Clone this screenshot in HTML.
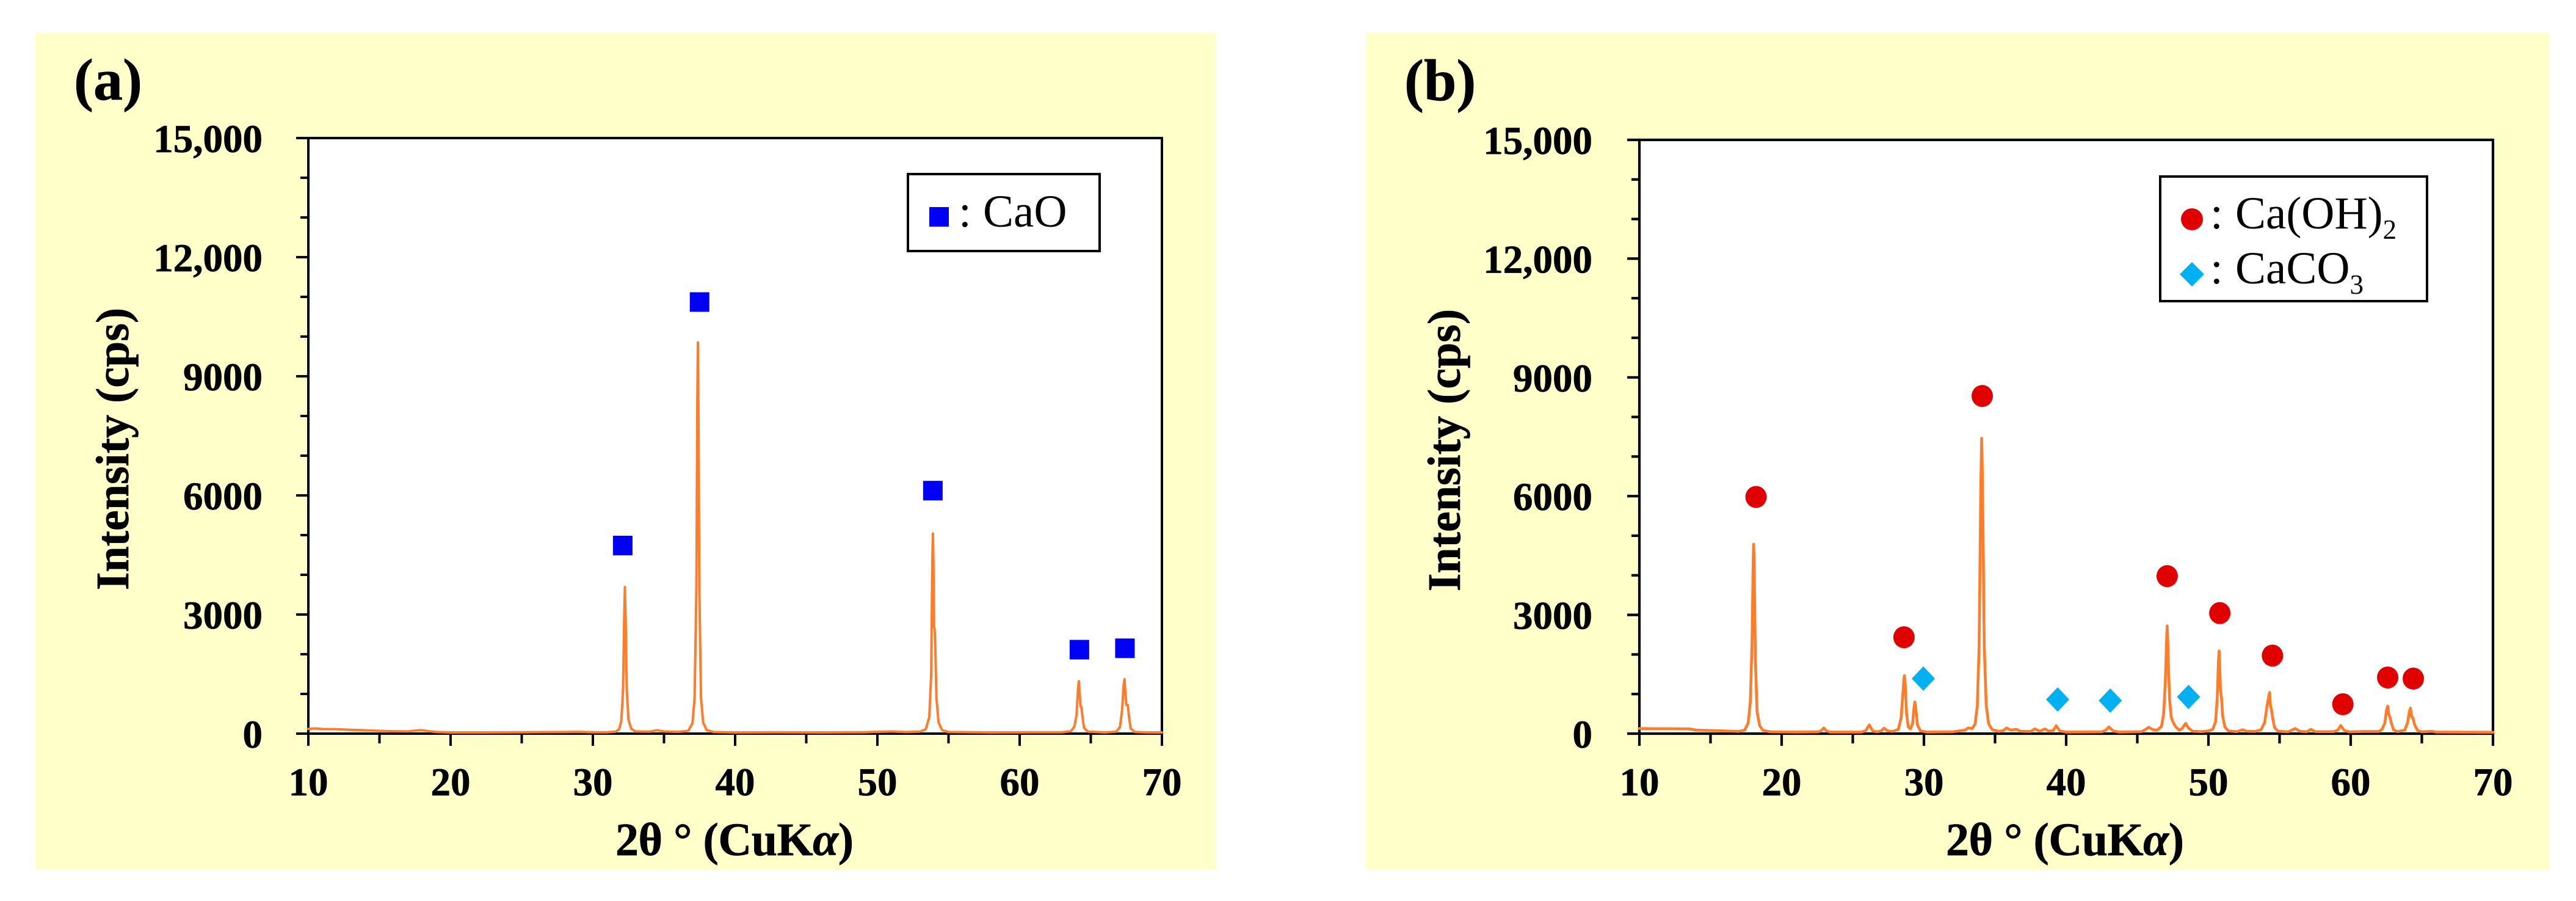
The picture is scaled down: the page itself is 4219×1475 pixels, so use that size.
<!DOCTYPE html>
<html lang="en">
<head>
<meta charset="utf-8">
<title>XRD patterns of CaO and Ca(OH)2</title>
<style>
html,body{margin:0;padding:0;background:#fff;width:4219px;height:1475px;overflow:hidden}
svg{display:block;font-family:"Liberation Serif",serif}
.tick{font-weight:bold;font-size:65px;fill:#000;stroke:#000;stroke-width:.7px}
.axt{font-weight:bold;font-size:76px;fill:#000;stroke:#000;stroke-width:.7px}
.pan{font-weight:bold;font-size:96px;fill:#000;stroke:#000;stroke-width:.7px}
.leg{font-size:75px;fill:#000}
.sub{font-size:45px}
</style>
</head>
<body>
<svg id="chart" xmlns="http://www.w3.org/2000/svg" width="4219" height="1475" viewBox="0 0 4219 1475">
  <rect x="58" y="54" width="1934" height="1369" fill="#ffffc9"/>
  <rect x="2238" y="54" width="1937" height="1369" fill="#ffffc9"/>
  <g id="panel-a"></g>
  <g id="panel-b"></g>

  <text class="pan" x="121" y="163">(a)</text>
  <text class="pan" x="2300" y="164">(b)</text>

  <text class="axt" text-anchor="middle" transform="translate(210,735) rotate(-90)">Intensity (cps)</text>
  <text class="axt" text-anchor="middle" transform="translate(2391,737) rotate(-90)">Intensity (cps)</text>
  <text class="axt" text-anchor="middle" x="1203" y="1400" textLength="390">2θ ° (CuK<tspan font-style="italic">α</tspan>)</text>
  <text class="axt" text-anchor="middle" x="3382" y="1400" textLength="390">2θ ° (CuK<tspan font-style="italic">α</tspan>)</text>

  <g>
    <rect x="1487" y="285" width="314" height="126" fill="#fff" stroke="#000" stroke-width="4"/>
    <rect x="1522" y="339" width="32" height="32" fill="#0000f5"/>
    <text class="leg" x="1570" y="371">:</text>
    <text class="leg" x="1610" y="371">CaO</text>
  </g>
  <g>
    <rect x="3538" y="289" width="437" height="204" fill="#fff" stroke="#000" stroke-width="4"/>
    <ellipse cx="3590" cy="359" rx="18" ry="18" fill="#e00000"/>
    <text class="leg" x="3620" y="374">:</text>
    <text class="leg" x="3661" y="374">Ca(OH)<tspan class="sub" dy="17">2</tspan></text>
    <polygon points="3570,449 3590,429 3610,449 3590,469" fill="#00b0f0"/>
    <text class="leg" x="3620" y="464">:</text>
    <text class="leg" x="3661" y="464">CaCO<tspan class="sub" dy="17">3</tspan></text>
  </g>
</svg>
<script>
// ---- shared axis data ----
var yTickValues = [0, 3000, 6000, 9000, 12000, 15000];
var yTickLabels = ["0", "3000", "6000", "9000", "12,000", "15,000"];
var yMinorValues = [1000, 2000, 4000, 5000, 7000, 8000, 10000, 11000, 13000, 14000];
var xTickValues = [10, 20, 30, 40, 50, 60, 70];
var xTickLabels = ["10", "20", "30", "40", "50", "60", "70"];
var xMinorValues = [15, 25, 35, 45, 55, 65];

// ---- panel (a): CaO pattern ----
var twoThetaA = [10,10.5,11,12,13,14,15,16,17,17.5,17.9,18.3,19,20,22,25,28,29,30,31,31.6,31.85,32,32.12,32.2,32.25,32.3,32.38,32.5,32.7,33,34,34.5,35,36,36.7,37,37.15,37.28,37.34,37.38,37.42,37.48,37.6,37.75,38,38.5,40,43,46,49,51,52,53,53.4,53.65,53.78,53.86,53.9,53.94,53.98,54.02,54.07,54.15,54.3,54.55,55,58,61,63,63.6,63.85,64,64.1,64.16,64.22,64.28,64.33,64.4,64.52,64.8,66,66.8,67.05,67.2,67.3,67.37,67.43,67.5,67.6,67.68,67.8,68.1,69,70];
var intensityA = [120,130,115,110,95,85,70,60,55,75,90,70,40,30,30,35,40,45,35,35,50,110,320,1100,2900,3692,2900,1100,350,120,55,50,85,55,45,70,260,900,3700,8200,9850,8200,3700,900,280,90,40,30,35,30,35,55,40,50,110,420,1500,4300,5040,4300,2700,2630,2200,900,280,90,40,30,35,35,60,180,480,1100,1320,1000,680,680,480,150,50,30,50,170,600,1200,1370,1050,720,720,450,130,40,30,30];
var caoMarkerX = [32.1, 37.5, 53.9, 64.2, 67.4];
var caoMarkerY = [4738, 10870, 6120, 2115, 2150];

// ---- panel (b): Ca(OH)2 + CaCO3 pattern ----
var twoThetaB = [10,11,12,13.5,14,16,17,17.4,17.65,17.8,17.92,18,18.03,18.07,18.15,18.27,18.45,18.7,19.2,21,22.6,22.8,22.96,23.15,23.4,25.6,25.9,26.16,26.4,26.7,27,27.2,27.45,27.8,28.2,28.4,28.52,28.6,28.63,28.68,28.78,28.9,29.05,29.2,29.3,29.36,29.42,29.55,29.75,30.2,32,32.9,33.1,33.4,33.6,33.75,33.88,34,34.06,34.12,34.24,34.38,34.55,34.8,35.3,35.6,35.8,36.1,36.5,36.8,37.5,37.8,38.15,38.5,38.8,39.1,39.3,39.55,40,42.5,42.8,43,43.3,43.7,45.3,45.6,45.8,46.1,46.4,46.7,46.85,46.97,47.05,47.1,47.15,47.2,47.27,47.38,47.5,47.7,47.95,48.15,48.4,48.6,48.9,49.5,50,50.3,50.5,50.62,50.7,50.75,50.8,50.85,50.92,51,51.15,51.4,52,52.4,52.7,53.3,53.7,53.95,54.12,54.24,54.3,54.36,54.42,54.5,54.65,54.9,55.6,56.1,56.4,56.9,57.2,57.5,58.8,59.1,59.3,59.55,59.9,61,62,62.2,62.4,62.52,62.6,62.68,62.75,62.85,63,63.3,63.8,64,64.12,64.2,64.28,64.37,64.5,64.7,65,65.7,66,70];
var intensityB = [130,125,125,120,90,70,55,90,270,800,2300,4400,4785,4300,1900,560,200,80,45,40,45,80,143,70,40,40,70,220,70,45,70,138,70,55,110,400,1000,1400,1466,1300,500,170,120,250,650,800,650,220,70,40,45,90,143,130,250,700,2200,6300,7462,6300,2200,700,250,100,55,80,143,90,110,60,55,120,60,120,60,80,200,70,40,45,90,170,70,40,50,110,160,100,90,180,500,1300,2300,2720,2250,1550,850,420,300,170,90,130,260,140,60,50,70,110,300,900,1800,2090,1600,1090,900,450,170,70,50,100,60,55,100,280,700,950,1040,700,630,420,150,60,45,130,60,45,110,50,50,90,205,80,45,55,55,110,270,600,697,480,430,280,100,50,90,280,560,645,430,400,220,80,45,60,40,35];
var caoh2MarkerX = [18.2, 28.6, 34.1, 47.1, 50.8, 54.5, 59.45, 62.6, 64.4];
var caoh2MarkerY = [5980, 2435, 8530, 3980, 3045, 1972, 742, 1418, 1390];
var caco3MarkerX = [29.96, 39.4, 43.1, 48.6];
var caco3MarkerY = [1390, 863, 835, 928];

var SVGNS = 'http://www.w3.org/2000/svg';
function mk(tag, attrs, parent) {
  var el = document.createElementNS(SVGNS, tag);
  for (var k in attrs) el.setAttribute(k, attrs[k]);
  parent.appendChild(el);
  return el;
}

function makeScaleX(left, right) {
  return function (v) { return left + (v - 10) / 60 * (right - left); };
}
function makeScaleY(top, bottom) {
  return function (v) { return bottom - v / 15000 * (bottom - top); };
}

function drawAxes(g, sx, sy, left, right, top, bottom, sw, labelRight) {
  var frame = mk('rect', {x: left, y: top, width: right - left, height: bottom - top, fill: '#fff', stroke: '#000', 'stroke-width': sw}, g);
  
  
  yTickValues.forEach(function (v, i) {
    var t = mk('line', {x1: left - 20, x2: left, y1: sy(v), y2: sy(v), stroke: '#000', 'stroke-width': sw}, g);
    
    
    var l = mk('text', {x: labelRight, y: sy(v) + 23, 'text-anchor': 'end', 'class': 'tick'}, g);
    
    
    l.textContent = yTickLabels[i];
  });
  yMinorValues.forEach(function (v) {
    var t = mk('line', {x1: left - 13, x2: left, y1: sy(v), y2: sy(v), stroke: '#000', 'stroke-width': sw}, g);
    
    
  });
  xTickValues.forEach(function (v, i) {
    var t = mk('line', {x1: sx(v), x2: sx(v), y1: bottom, y2: bottom + 20, stroke: '#000', 'stroke-width': sw}, g);
    
    
    var l = mk('text', {x: sx(v), y: 1302, 'text-anchor': 'middle', 'class': 'tick'}, g);
    
    
    l.textContent = xTickLabels[i];
  });
  xMinorValues.forEach(function (v) {
    var t = mk('line', {x1: sx(v), x2: sx(v), y1: bottom, y2: bottom + 16, stroke: '#000', 'stroke-width': sw}, g);
    
    
  });
}

function drawSeries(g, sx, sy, xs, ys, sw) {
  var pts = xs.map(function (x, i) { return sx(x).toFixed(1) + ',' + sy(ys[i]).toFixed(1); }).join(' ');
  var line = mk('polyline', {points: pts, fill: 'none', stroke: '#ff7c2a', 'stroke-width': sw, 'stroke-linejoin': 'round', 'stroke-linecap': 'round'}, g);
  
  
}

// Panel (a)
var ga = document.getElementById('panel-a');
var sxA = makeScaleX(505, 1903);
var syA = makeScaleY(226, 1201);
drawAxes(ga, sxA, syA, 505, 1903, 226, 1201, 4, 430);
drawSeries(ga, sxA, syA, twoThetaA, intensityA, 4);
caoMarkerX.forEach(function (x, i) {
  var m = mk('rect', {x: sxA(x) - 16, y: syA(caoMarkerY[i]) - 16, width: 32, height: 32, fill: '#0000f5'}, ga);
  
  
});

// Panel (b)
var gb = document.getElementById('panel-b');
var sxB = makeScaleX(2685, 4083);
var syB = makeScaleY(229, 1201);
drawAxes(gb, sxB, syB, 2685, 4083, 229, 1201, 4.2, 2608);
drawSeries(gb, sxB, syB, twoThetaB, intensityB, 4.6);
caoh2MarkerX.forEach(function (x, i) {
  var m = mk('ellipse', {cx: sxB(x), cy: syB(caoh2MarkerY[i]), rx: 17.5, ry: 18, fill: '#e00000'}, gb);
  
  
});
caco3MarkerX.forEach(function (x, i) {
  var cx = sxB(x), cy = syB(caco3MarkerY[i]);
  var pts = [(cx - 19) + ',' + cy, cx + ',' + (cy - 20), (cx + 19) + ',' + cy, cx + ',' + (cy + 20)].join(' ');
  var m = mk('polygon', {points: pts, fill: '#00b0f0'}, gb);
  
  
});
</script>
</body>
</html>
